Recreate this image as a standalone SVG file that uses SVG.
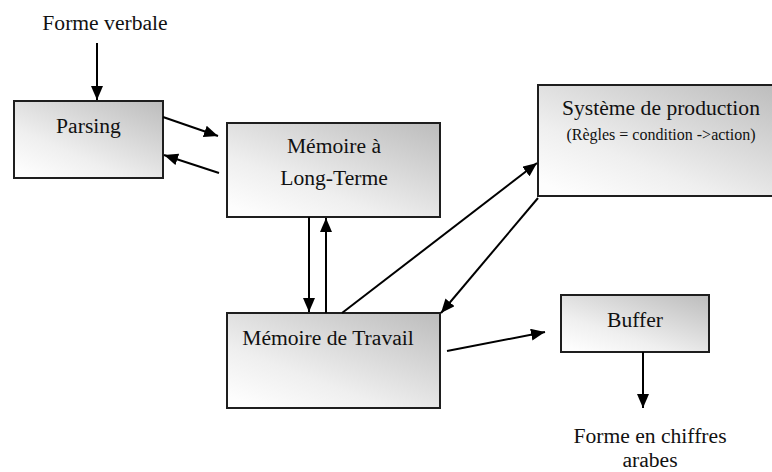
<svg xmlns="http://www.w3.org/2000/svg" width="772" height="472" viewBox="0 0 772 472">
<style>
.box{stroke:#1e1e1e;stroke-width:2;fill:url(#g)}
.t{font-family:"Liberation Serif","Times New Roman",serif;font-size:21.6px;fill:#111;text-anchor:middle}
.s{font-size:16px}
.c line{stroke:#000;stroke-width:2;marker-end:url(#a)}
</style>
<defs>
<linearGradient id="g" x1="1" y1="0" x2="0.15" y2="1">
<stop offset="0" stop-color="#bcbcbc"/>
<stop offset="0.7" stop-color="#efefef"/>
<stop offset="1" stop-color="#fdfdfd"/>
</linearGradient>
<marker id="a" markerUnits="userSpaceOnUse" markerWidth="14" markerHeight="12" refX="14" refY="6" orient="auto">
<path d="M0,0 L14,6 L0,12 z" fill="#000"/>
</marker>
</defs>
<g id="forme-verbale"><text class="t" x="105" y="30">Forme verbale</text></g>
<g id="parsing"><rect class="box" x="14" y="101" width="149" height="77"/><text class="t" x="88.5" y="133">Parsing</text></g>
<g id="ltm"><rect class="box" x="227" y="123" width="213" height="94"/><text class="t" x="334" y="153">Mémoire à</text><text class="t" x="334" y="185">Long-Terme</text></g>
<g id="production"><rect class="box" x="538" y="85" width="242" height="111"/><text class="t" x="661" y="115">Système de production</text><text class="t s" x="661" y="140">(Règles = condition -&gt;action)</text></g>
<g id="travail"><rect class="box" x="227" y="313" width="213" height="95"/><text class="t" x="328" y="345">Mémoire de Travail</text></g>
<g id="buffer"><rect class="box" x="561" y="295" width="148" height="57"/><text class="t" x="635" y="327">Buffer</text></g>
<g id="sortie"><text class="t" x="650" y="443">Forme en chiffres</text><text class="t" x="650" y="467">arabes</text></g>
<g id="connectors" class="c">
<line x1="97" y1="43" x2="97" y2="100"/>
<line x1="163" y1="117" x2="218" y2="136"/>
<line x1="219" y1="173" x2="164" y2="155"/>
<line x1="309" y1="217" x2="309" y2="312"/>
<line x1="326" y1="313" x2="326" y2="218"/>
<line x1="342" y1="313" x2="537" y2="163"/>
<line x1="538" y1="198" x2="441" y2="313"/>
<line x1="447" y1="351" x2="545" y2="332"/>
<line x1="643" y1="352" x2="643" y2="408"/>
</g>
</svg>
